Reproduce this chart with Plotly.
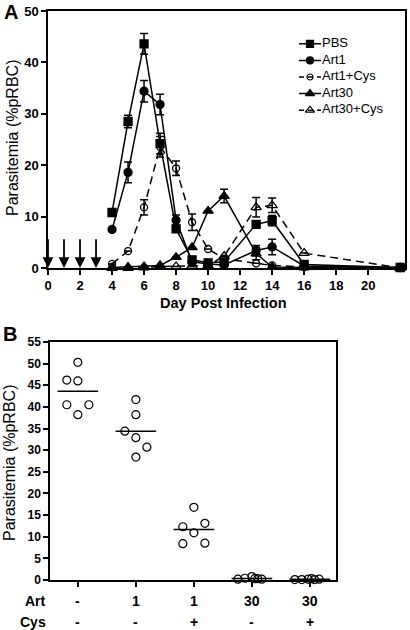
import plotly.graph_objects as go
import numpy as np

# ---------- Panel A data ----------
days = [4, 5, 6, 7, 8, 9, 10, 11, 13, 14, 16, 22]
pbs = [10.8, 28.5, 43.6, 24.2, 7.6, 1.6, 1.0, 1.2, 8.5, 9.2, 0.7, 0.1]
pbs_err = [None, 1.2, 2.0, 2.0, None, None, None, None, None, 1.0, None, None]
art1 = [7.5, 18.6, 34.4, 31.8, 9.3, 1.2, 0.8, 0.6, 3.4, 4.1, 0.4, 0.1]
art1_err = [None, 2.0, 2.1, 2.0, 1.0, None, None, None, 1.0, 1.5, None, None]
art1cys = [0.8, 3.3, 11.8, 23.6, 19.4, 8.9, 3.7, 1.8, 0.9, 0.5, 0.2, 0.0]
art1cys_err = [None, None, 1.5, 2.0, 1.4, 1.6, None, None, None, None, None, None]
art30 = [0.1, 0.2, 0.3, 0.5, 2.1, 4.0, 11.1, 14.0, 2.8, 0.2, 0.1, 0.0]
art30_err = [None, None, None, None, None, None, None, 1.3, 1.2, None, None, None]
art30cys = [0.0, 0.0, 0.1, 0.3, 0.3, 0.4, 0.5, 2.3, 11.8, 12.2, 2.9, 0.0]
art30cys_err = [None, None, None, None, None, None, None, None, 1.9, 1.4, None, None]
series_names = ["PBS", "Art1", "Art1+Cys", "Art30", "Art30+Cys"]
dose_days = [0, 1, 2, 3]
x_ticks_a = list(range(0, 21, 2))
y_ticks_a = [0, 10, 20, 30, 40, 50]

# ---------- Panel B data ----------
art_labels = ["-", "1", "1", "30", "30"]
cys_labels = ["-", "-", "+", "-", "+"]
group_values = [
    [50.3, 46.2, 46.0, 40.5, 40.5, 38.2],
    [41.7, 38.2, 34.4, 32.9, 30.7, 28.4],
    [16.8, 12.3, 13.1, 10.9, 8.4, 8.5],
    [0.2, 0.4, 0.8, 0.3, 0.2, 0.3],
    [0.1, 0.1, 0.2, 0.3, 0.2, 0.1],
]
jitter = [
    [0, -0.19, 0, -0.19, 0.19, 0],
    [0, 0, -0.19, 0, 0.19, 0],
    [0, -0.19, 0.19, 0, -0.19, 0.19],
    [-0.24, -0.12, 0.0, 0.05, 0.17, 0.1],
    [-0.26, -0.14, -0.03, 0.03, 0.16, 0.08],
]
y_ticks_b = list(range(0, 56, 5))

FONT = "Liberation Sans, Arial, sans-serif"
W, H = 410, 630

fig = go.Figure()

def err(a):
    return dict(type="data", array=a, visible=True, color="black",
                thickness=1.5, width=4)

styles = [
    ("square", "solid", 8),
    ("circle", "solid", 8),
    ("circle-open", "8px,5px", 7),
    ("triangle-up", "solid", 9),
    ("triangle-up-open", "8px,5px", 9),
]
values = [pbs, art1, art1cys, art30, art30cys]
errors = [pbs_err, art1_err, art1cys_err, art30_err, art30cys_err]

for name, vals, e, (sym, dash, sz) in zip(series_names, values, errors, styles):
    fig.add_trace(go.Scatter(
        x=days, y=vals, name=name, mode="lines+markers", showlegend=False,
        line=dict(color="black", width=1.5, dash=dash),
        marker=dict(symbol=sym, size=sz, color="black",
                    line=dict(color="black", width=1.3)),
        error_y=err(e), cliponaxis=False, xaxis="x", yaxis="y",
    ))

# custom compact legend drawn on an inset axis (row index = series order)
for i, (name, (sym, dash, sz)) in enumerate(zip(series_names, styles)):
    ldash = "solid" if dash == "solid" else "5px,4px"
    fig.add_trace(go.Scatter(
        x=[0, 22], y=[i, i], mode="lines", showlegend=False, hoverinfo="skip",
        line=dict(color="black", width=1.5, dash=ldash),
        xaxis="x3", yaxis="y3", cliponaxis=False,
    ))
    fig.add_trace(go.Scatter(
        x=[11], y=[i], mode="markers", showlegend=False, hoverinfo="skip",
        marker=dict(symbol=sym, size=sz - 1, color="black",
                    line=dict(color="black", width=1.2)),
        xaxis="x3", yaxis="y3", cliponaxis=False,
    ))
    fig.add_trace(go.Scatter(
        x=[23], y=[i], mode="text", text=[name], textposition="middle right",
        showlegend=False, hoverinfo="skip",
        textfont=dict(family=FONT, size=13, color="black"),
        xaxis="x3", yaxis="y3", cliponaxis=False,
    ))

# Panel B
for i, (vals, jit) in enumerate(zip(group_values, jitter)):
    cx = i + 1
    fig.add_trace(go.Scatter(
        x=[cx + j for j in jit], y=vals, mode="markers", showlegend=False,
        marker=dict(symbol="circle-open", size=8, color="black",
                    line=dict(color="black", width=1.2)),
        cliponaxis=False, xaxis="x2", yaxis="y2",
    ))
    m = float(np.mean(vals))
    fig.add_trace(go.Scatter(
        x=[cx - 0.35, cx + 0.35], y=[m, m], mode="lines", showlegend=False,
        line=dict(color="black", width=1.5), cliponaxis=False,
        xaxis="x2", yaxis="y2",
    ))

tickfont_a = dict(family=FONT, size=13, color="black", weight="bold")
tickfont_b = dict(family=FONT, size=12, color="black", weight="bold")

ax_common = dict(showgrid=False, zeroline=False, showline=True, linecolor="black",
                 linewidth=1.5, mirror=True, ticks="outside", tickcolor="black",
                 tickwidth=1.5, ticklen=5, automargin=False)
hidden = dict(visible=False, showgrid=False, zeroline=False, fixedrange=True)

fig.update_layout(
    width=W, height=H,
    margin=dict(l=0, r=0, t=0, b=0, pad=0, autoexpand=False),
    paper_bgcolor="white", plot_bgcolor="white",
    font=dict(family=FONT, color="black"),
    showlegend=False,
    xaxis=dict(domain=[48 / W, 405 / W], range=[0, 22.3], tickvals=x_ticks_a,
               tickfont=tickfont_a, anchor="y", **ax_common),
    yaxis=dict(domain=[1 - 268 / H, 1 - 11 / H], range=[0, 50], tickvals=y_ticks_a,
               tickfont=tickfont_a, anchor="x", **ax_common),
    xaxis2=dict(domain=[50 / W, 336 / W], range=[0.52, 5.45], tickvals=[1, 2, 3, 4, 5],
                showticklabels=False, anchor="y2", **ax_common),
    yaxis2=dict(domain=[1 - 580 / H, 1 - 342 / H], range=[0, 55], tickvals=y_ticks_b,
                tickfont=tickfont_b, anchor="x2", **ax_common),
    xaxis3=dict(domain=[299 / W, 400 / W], range=[0, 101], anchor="y3", **hidden),
    yaxis3=dict(domain=[1 - 118.5 / H, 1 - 35.5 / H], range=[4.5, -0.5], anchor="x3",
                **hidden),
)

ann = []
# dosing arrows
for d in dose_days:
    ann.append(dict(x=d, y=0, ax=d, ay=5.9, xref="x", yref="y", axref="x", ayref="y",
                    showarrow=True, arrowhead=2, arrowsize=1.2, arrowwidth=1.8,
                    arrowcolor="black", text=""))
# panel labels and titles
ann.append(dict(x=2 / W, y=1 - 12 / H, xref="paper", yref="paper", text="<b>A</b>",
                showarrow=False, xanchor="left", yanchor="middle",
                font=dict(family=FONT, size=20)))
ann.append(dict(x=1 / W, y=1 - 334 / H, xref="paper", yref="paper", text="<b>B</b>",
                showarrow=False, xanchor="left", yanchor="middle",
                font=dict(family=FONT, size=20)))
ann.append(dict(x=12 / W, y=1 - 138 / H, xref="paper", yref="paper",
                text="Parasitemia (%pRBC)", textangle=-90, showarrow=False,
                xanchor="center", yanchor="middle", font=dict(family=FONT, size=16)))
ann.append(dict(x=9 / W, y=1 - 463 / H, xref="paper", yref="paper",
                text="Parasitemia (%pRBC)", textangle=-90, showarrow=False,
                xanchor="center", yanchor="middle", font=dict(family=FONT, size=16)))
ann.append(dict(x=223 / W, y=1 - 303 / H, xref="paper", yref="paper",
                text="<b>Day Post Infection</b>", showarrow=False,
                xanchor="center", yanchor="middle", font=dict(family=FONT, size=14.5)))
# panel B condition rows
ann.append(dict(x=48 / W, y=1 - 601 / H, xref="paper", yref="paper", text="<b>Art</b>",
                showarrow=False, xanchor="right", yanchor="middle",
                font=dict(family=FONT, size=14)))
ann.append(dict(x=48 / W, y=1 - 622 / H, xref="paper", yref="paper", text="<b>Cys</b>",
                showarrow=False, xanchor="right", yanchor="middle",
                font=dict(family=FONT, size=14)))
for i, (a, c) in enumerate(zip(art_labels, cys_labels)):
    ann.append(dict(x=i + 1, y=1 - 601 / H, xref="x2", yref="paper", text="<b>%s</b>" % a,
                    showarrow=False, xanchor="center", yanchor="middle",
                    font=dict(family=FONT, size=14)))
    ann.append(dict(x=i + 1, y=1 - 622 / H, xref="x2", yref="paper", text="<b>%s</b>" % c,
                    showarrow=False, xanchor="center", yanchor="middle",
                    font=dict(family=FONT, size=14)))
fig.update_layout(annotations=ann)

fig.write_html(
    "out.html",
    config={"displayModeBar": False},
    post_script="document.body.style.margin='0';document.body.style.overflow='hidden';",
)
